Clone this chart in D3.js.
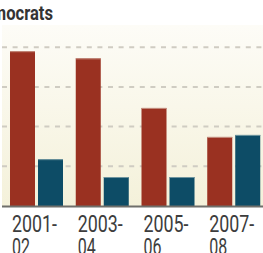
<!DOCTYPE html>
<html><head><meta charset="utf-8">
<script src="https://cdn.jsdelivr.net/npm/d3@7"></script>
<style>html,body{margin:0;padding:0;background:#fff;}svg{display:block;}</style>
</head><body>
<script>
const categories = ["2001-02", "2003-04", "2005-06", "2007-08"];
const democrats = [39.0, 37.2, 24.7, 17.4];
const republicans = [11.8, 7.3, 7.3, 17.9];
const yTicks = [10, 20, 30, 40];
const title = "Democrats";

const W = 263, H = 253;
const svg = d3.select("body").append("svg").attr("width", W).attr("height", H);
const defs = svg.append("defs");
const grad = defs.append("linearGradient").attr("id", "bg").attr("x1", 0).attr("y1", 0).attr("x2", 0).attr("y2", 1);
grad.append("stop").attr("offset", "0%").attr("stop-color", "#fdfcf7");
grad.append("stop").attr("offset", "100%").attr("stop-color", "#f4f1da");

const panelLeft = 2, baseY = 206, panelTop = 25;
svg.append("rect").attr("x", panelLeft).attr("y", panelTop).attr("width", W - panelLeft).attr("height", baseY - panelTop).attr("fill", "url(#bg)");

const y = d3.scaleLinear().domain([0, 40]).range([baseY, baseY - 158.8]);
const x = d3.scaleBand().domain(categories).range([-9.5, 253.5]).paddingInner(0).paddingOuter(0);
const sub = d3.scaleBand().domain(["d", "r"]).range([0, 53]).paddingInner(3 / 28).paddingOuter(0);

svg.append("g").selectAll("line").data(yTicks).join("line")
  .attr("x1", panelLeft).attr("x2", W).attr("y1", d => y(d)).attr("y2", d => y(d))
  .attr("stroke", "#cfccc2").attr("stroke-width", 2).attr("stroke-dasharray", "5,5.6");

const groups = svg.append("g").selectAll("g").data(categories).join("g")
  .attr("transform", d => `translate(${x(d) + 19.5},0)`);
const series = [
  {key: "d", vals: democrats, color: "#9a3121", hi: "#c48f80"},
  {key: "r", vals: republicans, color: "#0d4c66", hi: "#6f969f"}
];
series.forEach(s => {
  groups.append("rect")
    .attr("x", sub(s.key)).attr("width", sub.bandwidth())
    .attr("y", (d, i) => y(s.vals[i])).attr("height", (d, i) => baseY - y(s.vals[i]))
    .attr("fill", s.color);
  groups.append("rect")
    .attr("x", sub(s.key)).attr("width", sub.bandwidth())
    .attr("y", (d, i) => y(s.vals[i])).attr("height", 1)
    .attr("fill", s.hi);
});

svg.append("line").attr("x1", panelLeft).attr("x2", W).attr("y1", baseY + 0.5).attr("y2", baseY + 0.5)
  .attr("stroke", "#6f6f6b").attr("stroke-width", 2);

const fam = "Roboto, 'DejaVu Sans Condensed', sans-serif";
const labs = svg.append("g").selectAll("g").data(categories).join("g");
labs.append("text").attr("x", d => x(d) + 21.5).attr("y", 232)
  .attr("font-family", fam).attr("font-weight", 400).attr("font-size", 23).attr("fill", "#3d3d3d")
  .attr("textLength", 45).attr("lengthAdjust", "spacingAndGlyphs")
  .text(d => d.split("-")[0] + "-");
labs.append("text").attr("x", d => x(d) + 21.5).attr("y", 255)
  .attr("font-family", fam).attr("font-weight", 400).attr("font-size", 23).attr("fill", "#3d3d3d")
  .attr("textLength", 18).attr("lengthAdjust", "spacingAndGlyphs")
  .text(d => d.split("-")[1]);

svg.append("text").attr("x", -28).attr("y", 20)
  .attr("font-family", fam)
  .attr("font-weight", "bold").attr("font-size", 21).attr("fill", "#333")
  .attr("textLength", 81).attr("lengthAdjust", "spacingAndGlyphs").text(title);
</script>
</body></html>
